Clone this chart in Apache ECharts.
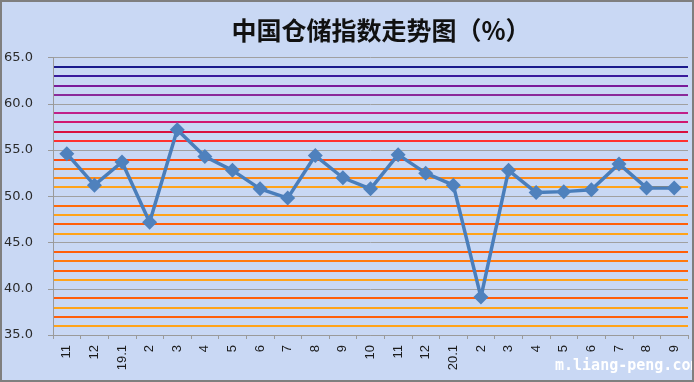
<!DOCTYPE html>
<html>
<head>
<meta charset="utf-8">
<script src="https://cdn.jsdelivr.net/npm/echarts@6/dist/echarts.min.js"></script>
<style>
html,body{margin:0;padding:0;background:#c9d8f4;}
#chart{width:694px;height:382px;}
</style>
</head>
<body>
<div id="chart"></div>
<script>
// Data
const categories = ['11','12','19.1','2','3','4','5','6','7','8','9','10','11','12','20.1','2','3','4','5','6','7','8','9'];
const indexValues = [54.6,51.2,53.7,47.2,57.2,54.3,52.8,50.8,49.8,54.4,52.0,50.8,54.5,52.5,51.2,39.1,52.8,50.4,50.5,50.7,53.5,50.9,50.9];
const yMin = 35, yMax = 65, yLabelStep = 5, bandStep = 1;
const titleText = '中国仓储指数走势图（%）';
const watermark = 'm.liang-peng.com';

// colours for the horizontal rules at 35,36,...,65 (multiples of 5 are drawn by the gray grid)
const ruleColors = [
  'transparent', // 35
  '#ffa31a','#ff5f0a','#ffa31a','#ff5f0a', // 36-39
  'transparent', // 40
  '#ffa31a','#ff5f0a','#ff7a10','#ff5f0a', // 41-44
  'transparent', // 45
  '#ffa31a','#ff5f0a','#ffa31a','#ff6a0a', // 46-49
  'transparent', // 50
  '#ffa31a','#ff8a14','#ff7a10','#ff4a10', // 51-54
  'transparent', // 55
  '#ff3030','#d81040','#d01870','#c0208a', // 56-59
  'transparent', // 60
  '#8a2a9a','#7a1a9a','#3a1a9c','#1a1a8c', // 61-64
  'transparent'  // 65
];

const chart = echarts.init(document.getElementById('chart'), null, {renderer:'canvas'});
chart.setOption({
  backgroundColor: '#c9d8f4',
  animation: false,
  grid: {left: 53, right: 6, top: 57.5, bottom: 47},
  xAxis: {
    type: 'category',
    data: categories,
    boundaryGap: true,
    axisLine: {lineStyle: {color: '#9a9a9a', width: 1}},
    axisTick: {show: true, length: 4, lineStyle: {color: '#9a9a9a'}},
    axisLabel: {rotate: 90, margin: 10, fontSize: 13, color: '#1a1a1a', fontFamily: 'Liberation Sans, Arial'},
    splitLine: {show: false}
  },
  yAxis: [
    {
      type: 'value', min: yMin, max: yMax, interval: yLabelStep,
      axisLine: {show: true, lineStyle: {color: '#9a9a9a'}},
      axisTick: {show: true, inside: false, length: 5, lineStyle: {color: '#9a9a9a'}},
      axisLabel: {margin: 20, fontSize: 13, color: '#2a2a2a', fontFamily: 'DejaVu Sans', formatter: v => v.toFixed(1)},
      splitLine: {show: true, lineStyle: {color: '#a0a0a0', width: 1}}
    },
    {
      type: 'value', min: yMin, max: yMax, interval: bandStep, position: 'left',
      axisLine: {show: false}, axisTick: {show: false}, axisLabel: {show: false},
      splitLine: {show: true, lineStyle: {color: ruleColors, width: 2}}
    }
  ],
  graphic: [
    {type: 'text', left: 'center', x: 0, style: {text: ''}},
    {type: 'text', x: 381, y: 30, z: 10,
     style: {text: titleText, fontSize: 25, fontFamily: 'Noto Sans CJK SC', fontWeight: 'bold', fill: '#111', textAlign: 'center', textVerticalAlign: 'middle'}},
    {type: 'text', x: 555, y: 366, z: 10,
     style: {text: watermark, fontSize: 15, fontFamily: 'DejaVu Sans Mono', fontWeight: 'bold', fill: '#ffffff', textAlign: 'left', textVerticalAlign: 'middle'}},
    {type: 'rect', z: 20, shape: {x: 1, y: 1, width: 692, height: 380},
     style: {fill: 'none', stroke: '#7f7f7f', lineWidth: 2}}
  ],
  series: [{
    type: 'line',
    data: indexValues,
    yAxisIndex: 0,
    symbol: 'diamond',
    symbolSize: 15,
    itemStyle: {color: '#4f81bd'},
    lineStyle: {color: '#4a7ebb', width: 3.5},
    z: 5
  }]
});
</script>
</body>
</html>
